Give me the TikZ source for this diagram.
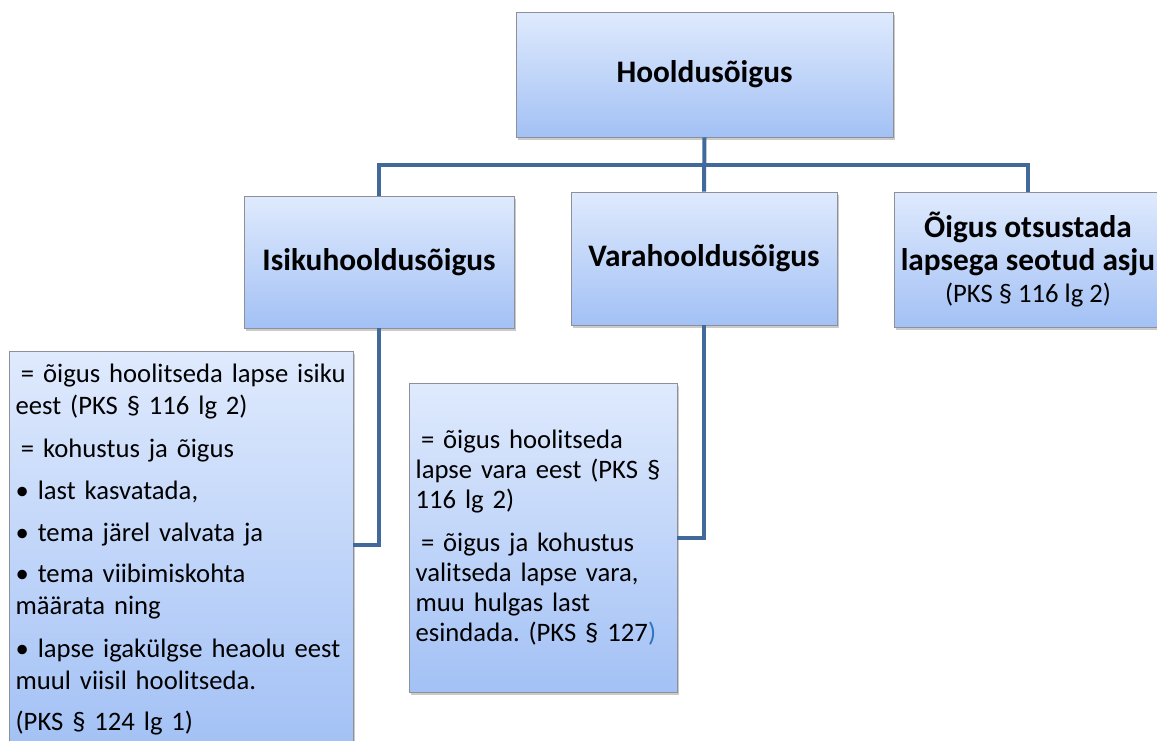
\documentclass[tikz,border=0pt]{standalone}
\usepackage{fontspec}
\setmainfont{Carlito}
\usepackage{xcolor}
\usetikzlibrary{shadows}

\definecolor{boxtop}{HTML}{DFEAFD}
\definecolor{boxbot}{HTML}{A3C1F5}
\definecolor{boxline}{HTML}{8E9099}
\definecolor{connblue}{HTML}{41699B}
\definecolor{parenblue}{HTML}{2E75C0}

\frenchspacing

\tikzset{
  box/.style={draw=boxline, line width=0.6pt, top color=boxtop, bottom color=boxbot,
    drop shadow={shadow xshift=1.5pt, shadow yshift=-2pt, opacity=0.35, fill=black!60},
    inner sep=0pt},
  head/.style={box, align=center, font=\fontsize{23.5}{24}\selectfont\bfseries},
  desc/.style={box, align=left, inner xsep=5pt, font=\fontsize{20}{24}\selectfont},
  conn/.style={draw=connblue, line width=3pt},
}

\begin{document}
\begin{tikzpicture}[x=0.75pt,y=-0.75pt]
  \useasboundingbox (0,0) rectangle (1157,740);

  % top level
  \node[head, minimum width=282.75pt, minimum height=93.75pt] (hooldus) at (704.5,74.5) {Hooldusõigus};

  % second level
  \node[head, minimum width=202.5pt, minimum height=99pt] (isiku) at (379,262) {Isikuhooldusõigus};
  \node[head, minimum width=199.5pt, minimum height=99.75pt] (vara) at (704,258.5) {Varahooldusõigus};
  \node[head, minimum width=201pt, minimum height=101.25pt] (otsus) at (1028,259.5)
    {Õigus otsustada\\[0.5pt] lapsega seotud asju\\[0pt]
     {\mdseries\fontsize{20}{24}\selectfont (PKS § 116 lg 2)}};

  % descriptions
  \node[desc, minimum width=258pt, minimum height=297.75pt, text width=248pt] (isikutekst) at (181,549.5)
    {\mbox{\hspace{0.2em}= õigus hoolitseda lapse isiku}\\
     eest (PKS § 116 lg 2)\\[8pt]
     \hspace{0.2em}= kohustus ja õigus\\[8pt]
     • last kasvatada,\\[7pt]
     • tema järel valvata ja\\[7pt]
     • tema viibimiskohta\\
     määrata ning\\[8pt]
     \mbox{• lapse igakülgse heaolu eest}\\
     muul viisil hoolitseda.\\[7pt]
     (PKS § 124 lg 1)};
  \node[desc, minimum width=201pt, minimum height=231.75pt, text width=191pt] (varatekst) at (543,537.5)
    {\hspace{0.2em}= õigus hoolitseda\\[-1.5pt]
     \mbox{lapse vara eest (PKS §}\\[-1.5pt]
     116 lg 2)\\[8pt]
     \hspace{0.2em}= õigus ja kohustus\\[-1.5pt]
     valitseda lapse vara,\\[-1.5pt]
     muu hulgas last\\[-1.5pt]
     esindada. (PKS § 127\textcolor{parenblue}{)}};

  % connectors
  \coordinate (jaotus) at (704.5,165);
  \draw[conn] (hooldus.south) -- (vara.north);
  \draw[conn] (isiku.north) |- (jaotus) -| (otsus.north);
  \draw[conn] (isiku.south) |- ([yshift=3.4pt]isikutekst.east);
  \draw[conn] (vara.south) |- (varatekst.east);
\end{tikzpicture}
\end{document}
